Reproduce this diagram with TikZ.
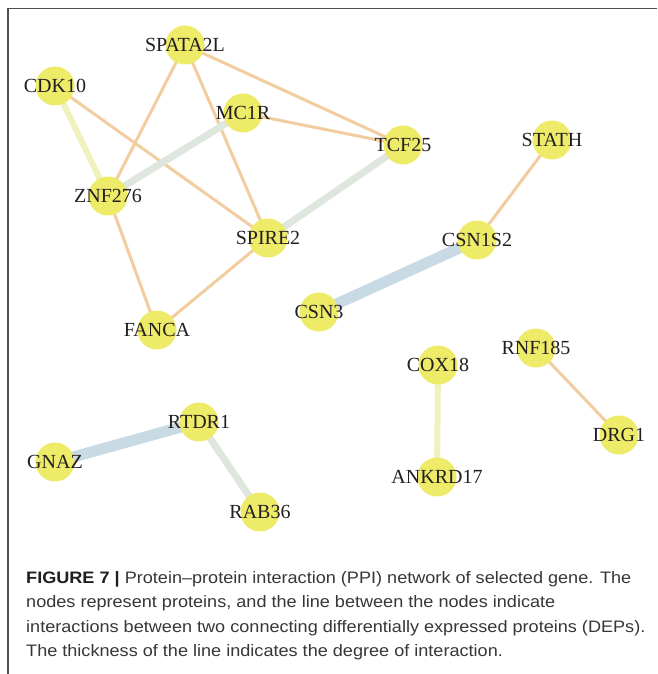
\documentclass[tikz,border=0pt]{standalone}
\usepackage{fontspec}
\setmainfont{Liberation Serif}
\newfontfamily\capfont[FakeStretch=1.09]{Liberation Sans}
\usetikzlibrary{backgrounds}
\definecolor{nodeyel}{RGB}{238,235,104}
\definecolor{eorange}{RGB}{242,205,160}
\definecolor{egreen}{RGB}{222,231,222}
\definecolor{eyellow}{RGB}{240,242,190}
\definecolor{eblue}{RGB}{200,218,228}
\definecolor{labtext}{RGB}{35,31,32}
\definecolor{captext}{RGB}{55,55,55}
\definecolor{framecol}{RGB}{80,80,80}
\tikzset{
  gene/.style={circle, fill=nodeyel, minimum size=39pt, inner sep=0pt,
    text=labtext, font=\fontsize{20}{22}\selectfont},
  thinedge/.style={draw=eorange, line width=3pt},
  greenedge/.style={draw=egreen, line width=7pt},
  yeledge/.style={draw=eyellow, line width=6pt},
  blueedge/.style={draw=eblue, line width=11pt},
  capline/.style={anchor=base west, inner sep=0pt, text=captext,
    font=\capfont\fontsize{16.6}{20}\selectfont}
}
\begin{document}
\begin{tikzpicture}[x=1pt,y=-1pt]
\useasboundingbox (0,0) rectangle (657,674);

\node[gene] (spata) at (185,45) {\makebox[0pt]{SPATA2L}};
\node[gene] (cdk) at (55,86) {\makebox[0pt]{CDK10}};
\node[gene] (mc1r) at (243,113) {\makebox[0pt]{MC1R}};
\node[gene] (znf) at (108,196) {\makebox[0pt]{ZNF276}};
\node[gene] (spire) at (268,238) {\makebox[0pt]{SPIRE2}};
\node[gene] (fanca) at (157,330) {\makebox[0pt]{FANCA}};
\node[gene] (tcf) at (403,145) {\makebox[0pt]{TCF25}};
\node[gene] (stath) at (552,140) {\makebox[0pt]{STATH}};
\node[gene] (csn1s2) at (477,240) {\makebox[0pt]{CSN1S2}};
\node[gene] (csn3) at (319,312) {\makebox[0pt]{CSN3}};
\node[gene] (cox) at (438,365) {\makebox[0pt]{COX18}};
\node[gene] (ankrd) at (437,477) {\makebox[0pt]{ANKRD17}};
\node[gene] (rnf) at (536,348) {\makebox[0pt]{RNF185}};
\node[gene] (drg) at (619,435) {\makebox[0pt]{DRG1}};
\node[gene] (rtdr) at (199,422) {\makebox[0pt]{RTDR1}};
\node[gene] (gnaz) at (55,462) {\makebox[0pt]{GNAZ}};
\node[gene] (rab) at (260,512) {\makebox[0pt]{RAB36}};

\begin{scope}[on background layer]
\fill[white] (0,0) rectangle (657,674);
\draw[framecol, line width=1.2pt] (8,674) -- (8,8.5) -- (657,8.5);
\draw[thinedge] (spata.center) -- (znf.center);
\draw[thinedge] (spata.center) -- (spire.center);
\draw[thinedge] (spata.center) -- (tcf.center);
\draw[thinedge] (cdk.center) -- (spire.center);
\draw[thinedge] (mc1r.center) -- (tcf.center);
\draw[thinedge] (znf.center) -- (fanca.center);
\draw[thinedge] (spire.center) -- (fanca.center);
\draw[thinedge] (stath.center) -- (csn1s2.center);
\draw[thinedge] (rnf.center) -- (drg.center);
\draw[yeledge] (cdk.center) -- (znf.center);
\draw[yeledge] (cox.center) -- (ankrd.center);
\draw[greenedge] (mc1r.center) -- (znf.center);
\draw[greenedge] (tcf.center) -- (spire.center);
\draw[greenedge] (rtdr.center) -- (rab.center);
\draw[blueedge] (csn1s2.center) -- (csn3.center);
\draw[blueedge] (rtdr.center) -- (gnaz.center);
\end{scope}

\node[capline] (cap1) at (26,583) {{\bfseries\color{black!88}FIGURE 7 |} Protein–protein interaction (PPI) network of selected gene. The};
\node[capline] (cap2) at (26,607.5) {nodes represent proteins, and the line between the nodes indicate};
\node[capline] (cap3) at (26,632) {interactions between two connecting differentially expressed proteins (DEPs).};
\node[capline] (cap4) at (26,656.5) {The thickness of the line indicates the degree of interaction.};
\end{tikzpicture}
\end{document}
